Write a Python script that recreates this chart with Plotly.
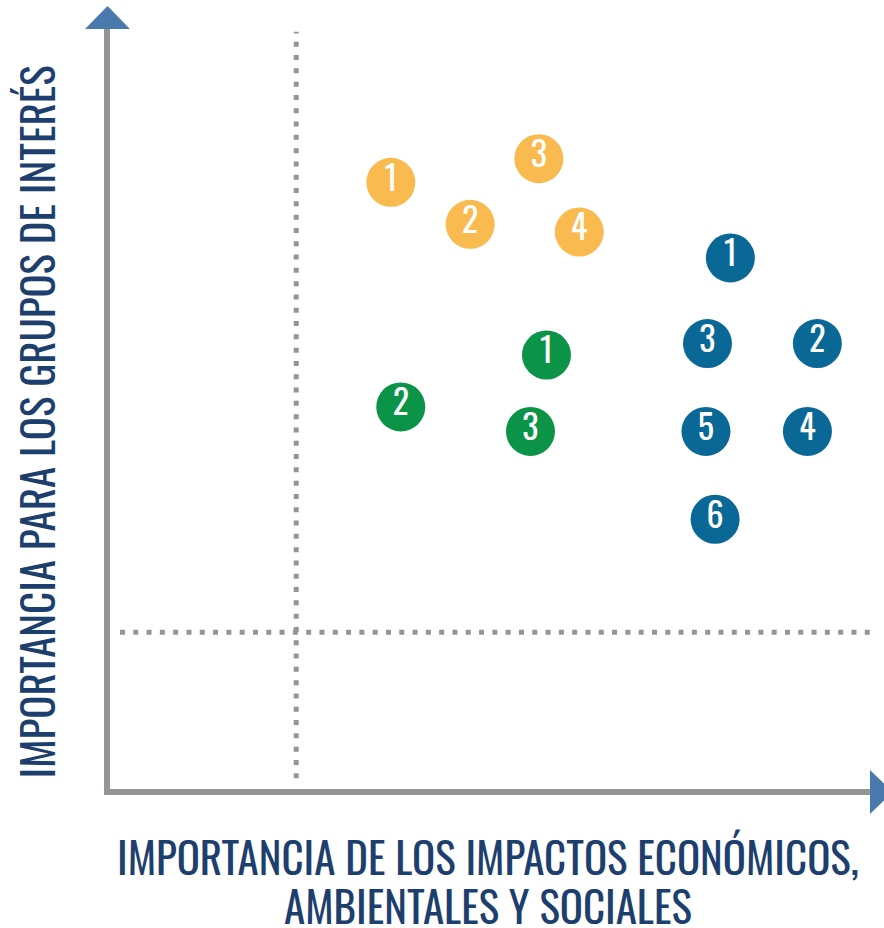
import plotly.graph_objects as go

# Data (importance scale 0-10)
orange_x = [3.72, 4.76, 5.66, 6.19]
orange_y = [7.98, 7.43, 8.29, 7.33]
orange_labels = ["1", "2", "3", "4"]

green_x = [5.76, 3.85, 5.55]
green_y = [5.72, 5.04, 4.72]
green_labels = ["1", "2", "3"]

blue_x = [8.17, 9.31, 7.87, 9.18, 7.85, 7.97]
blue_y = [6.99, 5.87, 5.87, 4.72, 4.72, 3.57]
blue_labels = ["1", "2", "3", "4", "5", "6"]

threshold_x = 2.48
threshold_y = 2.09

x_title_lines = ["IMPORTANCIA DE LOS IMPACTOS ECONÓMICOS,", "AMBIENTALES Y SOCIALES"]
y_title = "IMPORTANCIA PARA LOS GRUPOS DE INTERÉS"

FONT = "Oswald, Roboto Condensed, sans-serif"
NAVY = "#1D3F6E"
GREY = "#939598"
ARROW = "#4A7AAD"

fig = go.Figure()
for xs, ys, labels, color in [
    (orange_x, orange_y, orange_labels, "#F9BA50"),
    (green_x, green_y, green_labels, "#0B9347"),
    (blue_x, blue_y, blue_labels, "#0A6896"),
]:
    fig.add_trace(go.Scatter(
        x=xs, y=ys, text=labels, mode="markers+text",
        marker=dict(size=49, color=color, line=dict(width=0)),
        textposition="middle center",
        textfont=dict(family=FONT, size=34, color="white", weight=400),
        hoverinfo="skip", showlegend=False, cliponaxis=False,
    ))

shapes = []
# dotted threshold lines
shapes.append(dict(type="line", xref="x", yref="paper", x0=threshold_x, x1=threshold_x,
                   y0=0.018, y1=0.995, line=dict(color=GREY, width=5, dash="5px,8.3px"), layer="below"))
shapes.append(dict(type="line", xref="paper", yref="y", x0=0.017, x1=1.003,
                   y0=threshold_y, y1=threshold_y, line=dict(color=GREY, width=5, dash="5px,8.3px"), layer="below"))
# axes
shapes.append(dict(type="line", xref="paper", yref="paper", x0=0, x1=0, y0=-0.004, y1=1.0,
                   line=dict(color=GREY, width=6)))
shapes.append(dict(type="line", xref="paper", yref="paper", x0=-0.004, x1=1.0, y0=0, y1=0,
                   line=dict(color=GREY, width=6)))
# arrowheads
shapes.append(dict(type="path", xref="paper", yref="paper",
                   path="M -0.0288 0.9987 L 0.0301 0.9987 L 0.0007 1.0288 Z",
                   fillcolor=ARROW, line=dict(width=0)))
shapes.append(dict(type="path", xref="paper", yref="paper",
                   path="M 1.0 0.0288 L 1.0 -0.0288 L 1.030 0 Z",
                   fillcolor=ARROW, line=dict(width=0)))

annotations = [
    dict(text=x_title_lines[0], xref="paper", yref="paper", x=0.4993, y=-0.0389,
         xanchor="center", yanchor="top", showarrow=False,
         font=dict(family=FONT, size=43, color=NAVY, weight=400)),
    dict(text=x_title_lines[1], xref="paper", yref="paper", x=0.4987, y=-0.1039,
         xanchor="center", yanchor="top", showarrow=False,
         font=dict(family=FONT, size=43, color=NAVY, weight=400)),
    dict(text=y_title, xref="paper", yref="paper", x=-0.0944, y=0.485,
         xanchor="center", yanchor="middle", textangle=-90, showarrow=False,
         font=dict(family=FONT, size=43, color=NAVY, weight=400)),
]

fig.update_layout(
    width=884, height=928,
    margin=dict(l=107, r=14, t=28, b=136),
    paper_bgcolor="white", plot_bgcolor="white",
    xaxis=dict(range=[0, 10], visible=False, fixedrange=True),
    yaxis=dict(range=[0, 10], visible=False, fixedrange=True),
    shapes=shapes, annotations=annotations,
)

fig.write_html("out.html", config={"displayModeBar": False},
               post_script="document.body.style.margin='0';")
